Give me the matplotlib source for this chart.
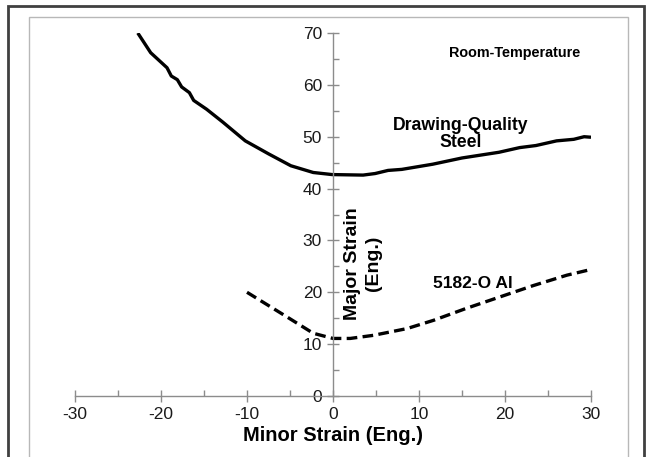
"""Forming limit curves: drawing-quality steel vs 5182-O aluminium."""

import matplotlib

matplotlib.use("Agg")
import matplotlib.pyplot as plt
from matplotlib.patches import Rectangle
from matplotlib.ticker import MultipleLocator

plt.rcParams["font.family"] = ["Liberation Sans", "DejaVu Sans"]
plt.rcParams["axes.unicode_minus"] = False

# forming limit curve data (minor strain, major strain), engineering %
steel_minor = [-22.7, -21.2, -19.3, -18.8, -18.1, -17.6, -16.7, -16.2, -14.7, -12.8,
               -10.2, -7.5, -4.9, -2.3, -0.1, 3.5, 4.9, 6.4, 8.0, 11.6, 15.0, 19.3,
               21.7, 23.6, 26.0, 28.0, 29.2, 30.0]
steel_major = [70.0, 66.2, 63.3, 61.7, 61.0, 59.6, 58.5, 57.0, 55.3, 52.8,
               49.2, 46.7, 44.4, 43.1, 42.7, 42.6, 42.9, 43.5, 43.7, 44.7, 45.9, 47.0,
               47.9, 48.3, 49.2, 49.5, 50.0, 49.9]

al_minor = [-10.0, -5.4, -2.3, 0.0, 2.0, 4.7, 8.6, 11.7, 15.5, 19.4, 23.3, 27.2, 30.0]
al_major = [20.0, 15.3, 12.1, 11.1, 11.1, 11.7, 13.0, 14.6, 16.9, 19.1, 21.3, 23.3, 24.4]

x_ticks = [-30, -20, -10, 0, 10, 20, 30]
y_ticks = [0, 10, 20, 30, 40, 50, 60, 70]

W, H = 647, 457
fig = plt.figure(figsize=(W / 100, H / 100), dpi=100)

# outer frame and inner chart-area border
fig.patches.append(Rectangle((8 / W, -0.1), 636 / W, 1.1 - 6 / H, transform=fig.transFigure,
                             fill=False, edgecolor="#404040", linewidth=2))
fig.patches.append(Rectangle((29 / W, -0.1), 599 / W, 1.1 - 17 / H, transform=fig.transFigure,
                             fill=False, edgecolor="#b8b8b8", linewidth=1))

ax = fig.add_axes([75 / W, (H - 396) / H, 516 / W, 363 / H])
ax.set_xlim(-30, 30)
ax.set_ylim(0, 70)

ax.plot(steel_minor, steel_major, color="black", linewidth=2.4, solid_capstyle="butt")
ax.plot(al_minor, al_major, color="black", linewidth=2.4, dashes=(3.2, 1.6))

for side in ["top", "right"]:
    ax.spines[side].set_visible(False)
ax.spines["left"].set_position(("data", 0))
ax.spines["bottom"].set_position(("data", 0))
for side in ["left", "bottom"]:
    ax.spines[side].set_color("#8c8c8c")
    ax.spines[side].set_linewidth(1)

ax.set_xticks(x_ticks)
ax.set_yticks(y_ticks)
ax.xaxis.set_minor_locator(MultipleLocator(5))
ax.yaxis.set_minor_locator(MultipleLocator(5))
ax.tick_params(which="major", direction="inout", length=8, width=1, color="#8c8c8c",
               labelsize=12.5, labelcolor="#1a1a1a")
ax.tick_params(which="minor", direction="in", length=4.5, width=1, color="#8c8c8c")
ax.tick_params(axis="y", which="major", pad=4)
ax.tick_params(axis="x", which="major", pad=4)
ax.patch.set_visible(False)

ax.set_xlabel("Minor Strain (Eng.)", fontsize=14.5, fontweight="bold", labelpad=3)
ax.text(3.5, 25.6, "Major Strain\n(Eng.)", rotation=90, ha="center", va="center",
        fontsize=14, fontweight="bold", linespacing=1.3)

ax.text(21.1, 66.2, "Room-Temperature", ha="center", va="center", fontsize=10.4, fontweight="bold")
ax.text(14.8, 50.5, "Drawing-Quality\nSteel", ha="center", va="center", fontsize=12.7,
        fontweight="bold", linespacing=1.05)
ax.text(16.3, 21.7, "5182-O Al", ha="center", va="center", fontsize=12.5, fontweight="bold")

fig.savefig("out.png", dpi=100)
